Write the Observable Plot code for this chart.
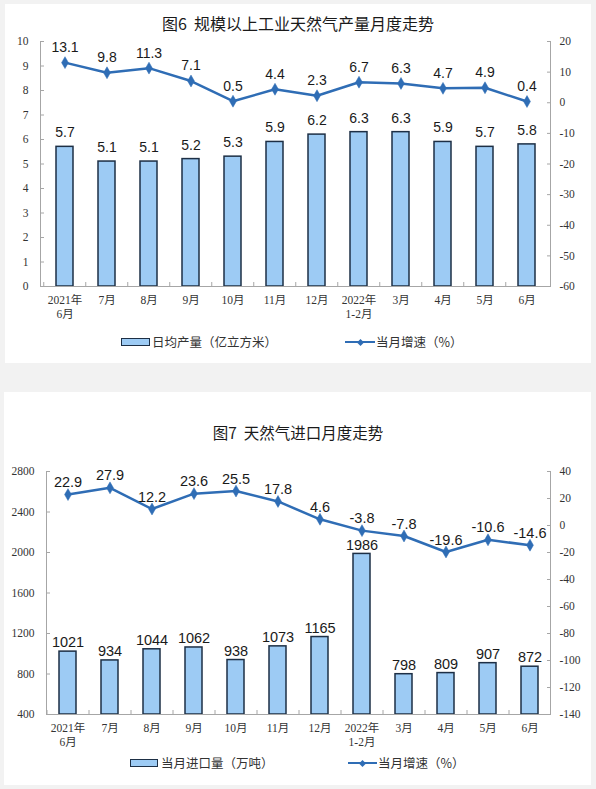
<!DOCTYPE html>
<html><head><meta charset="utf-8">
<script src="https://cdn.jsdelivr.net/npm/d3@7"></script>
<script src="https://cdn.jsdelivr.net/npm/@observablehq/plot@0.6"></script>
<style>
html,body{margin:0;padding:0;background:#f2f2f2;}
body{width:596px;height:789px;position:relative;overflow:hidden;font-family:"Noto Sans CJK SC","Noto Sans",sans-serif;}
.card{position:absolute;background:#fff;}
.title{position:absolute;left:0;width:596px;text-align:center;color:#1a1a1a;line-height:1;white-space:nowrap;}
.leg{position:absolute;font-size:12.5px;color:#333;line-height:14px;white-space:nowrap;}
.box{position:absolute;background:#9dcbf4;border:1.5px solid #1d2f45;box-sizing:border-box;}
.lin{position:absolute;height:2px;background:#2f6db5;}
.dia{position:absolute;width:5px;height:5px;background:#2f6db5;transform:rotate(45deg);}
.plotwrap{position:absolute;left:0;}
</style>
</head><body>
<div class="card" style="left:5px;top:4px;width:586px;height:359px"></div>
<div class="card" style="left:4px;top:392px;width:587px;height:393px"></div>

<div class="title" style="top:15px;font-size:16px">图6&nbsp; 规模以上工业天然气产量月度走势</div>
<div class="title" style="top:425px;font-size:15.5px">图7&nbsp; 天然气进口月度走势</div>

<div id="p1" class="plotwrap" style="top:0px"></div>
<div id="p2" class="plotwrap" style="top:440px"></div>

<!-- legend 1 -->
<div class="box" style="left:121px;top:338px;width:29px;height:8px"></div>
<div class="leg" style="left:152px;top:335px">日均产量（亿立方米）</div>
<div class="lin" style="left:345px;top:341px;width:30px"></div>
<div class="dia" style="left:357.5px;top:339.5px"></div>
<div class="leg" style="left:376px;top:335px">当月增速（%）</div>
<!-- legend 2 -->
<div class="box" style="left:130px;top:759px;width:28px;height:8px"></div>
<div class="leg" style="left:161px;top:756px">当月进口量（万吨）</div>
<div class="lin" style="left:348px;top:762px;width:29px"></div>
<div class="dia" style="left:360px;top:760.5px"></div>
<div class="leg" style="left:378px;top:756px">当月增速（%）</div>

<script>
// ---- data ----
const months = ["2021年\n6月","7月","8月","9月","10月","11月","12月","2022年\n1-2月","3月","4月","5月","6月"];
const dailyOutput = [5.7,5.1,5.1,5.2,5.3,5.9,6.2,6.3,6.3,5.9,5.7,5.8];
const outputGrowth = [13.1,9.8,11.3,7.1,0.5,4.4,2.3,6.7,6.3,4.7,4.9,0.4];
const imports = [1021,934,1044,1062,938,1073,1165,1986,798,809,907,872];
const importGrowth = [22.9,27.9,12.2,23.6,25.5,17.8,4.6,-3.8,-7.8,-19.6,-10.6,-14.6];
const leftTicks1 = [0,1,2,3,4,5,6,7,8,9,10];
const rightTicks1 = [-60,-50,-40,-30,-20,-10,0,10,20];
const leftTicks2 = [400,800,1200,1600,2000,2400,2800];
const rightTicks2 = [-140,-120,-100,-80,-60,-40,-20,0,20,40];

const BAR_FILL = "#9dcbf4", BAR_STROKE = "#1d2f45", LINE = "#2f6db5", AXIS = "#a6a6a6";
const SERIF = "'Liberation Serif','Times New Roman','Noto Sans CJK SC',serif";
const SANS = "'Liberation Sans',Arial,sans-serif";

function dualChart(o) {
  const data = months.map((m, i) => ({m, v: o.bars[i], g: o.growth[i]}));
  const toLeft = d3.scaleLinear().domain(o.rightDomain).range(o.leftDomain);
  const toRight = y => toLeft.invert(y);
  const plotW = o.width - o.marginLeft - o.marginRight;
  const step = plotW / 12;
  const base = o.leftDomain[0];
  return Plot.plot({
    width: o.width, height: o.height,
    marginTop: o.marginTop, marginBottom: o.marginBottom,
    marginLeft: o.marginLeft, marginRight: o.marginRight,
    style: {background: "transparent", overflow: "visible", fontFamily: SERIF},
    x: {type: "band", domain: months, paddingInner: 0.6, paddingOuter: 0.3},
    y: {domain: o.leftDomain},
    marks: [
      Plot.barY(data, {x: "m", y1: base, y2: "v", fill: BAR_FILL, stroke: BAR_STROKE, strokeWidth: 1.5}),
      Plot.frame({anchor: "left", stroke: AXIS}),
      Plot.frame({anchor: "right", stroke: AXIS}),
      Plot.ruleY([base], {stroke: AXIS}),
      Plot.axisY(o.leftTicks, {anchor: "left", tickSize: -4, tickPadding: 16, stroke: AXIS,
        tickFormat: d => String(d), fontFamily: SERIF, fontSize: 11.5, fill: "#333", label: null}),
      Plot.axisY(o.rightTicks.map(t => toLeft(t)), {anchor: "right", tickSize: -4, tickPadding: 13, stroke: AXIS,
        tickFormat: y => String(Math.round(toRight(y))), textAnchor: "start",
        fontFamily: SERIF, fontSize: 11.5, fill: "#333", label: null}),
      Plot.axisX({tickSize: -4, tickFormat: () => "", dx: -step / 2, stroke: AXIS, label: null}),
      Plot.axisX({tickSize: 0, tickPadding: 8, fontFamily: SERIF, fontSize: 11.5, lineHeight: 1.2, fill: "#333", label: null}),
      Plot.text(data, {x: "m", y: "v", text: d => String(d.v), dy: o.barDy, fontFamily: SANS, fontSize: o.fontSize, fill: "#1a1a1a"}),
      Plot.line(data, {x: "m", y: d => toLeft(d.g), stroke: LINE, strokeWidth: 2.5}),
      Plot.dot(data, {x: "m", y: d => toLeft(d.g), symbol: "diamond", r: 3.6, fill: LINE, stroke: LINE, strokeWidth: 0.5}),
      Plot.text(data, {x: "m", y: d => toLeft(d.g), text: d => String(d.g), dy: o.lineDy, fontFamily: SANS, fontSize: o.fontSize, fill: "#1a1a1a"})
    ]
  });
}

document.getElementById("p1").append(dualChart({
  bars: dailyOutput, growth: outputGrowth,
  leftDomain: [0, 10], rightDomain: [-60, 20],
  leftTicks: leftTicks1, rightTicks: rightTicks1,
  width: 596, height: 330, marginTop: 41, marginBottom: 44, marginLeft: 40, marginRight: 46,
  barDy: -14, lineDy: -15, fontSize: 14
}));
document.getElementById("p2").append(dualChart({
  bars: imports, growth: importGrowth,
  leftDomain: [400, 2800], rightDomain: [-140, 40],
  leftTicks: leftTicks2, rightTicks: rightTicks2,
  width: 596, height: 320, marginTop: 31, marginBottom: 46, marginLeft: 46, marginRight: 46,
  barDy: -9, lineDy: -12, fontSize: 14.5
}));
</script>
</body></html>
